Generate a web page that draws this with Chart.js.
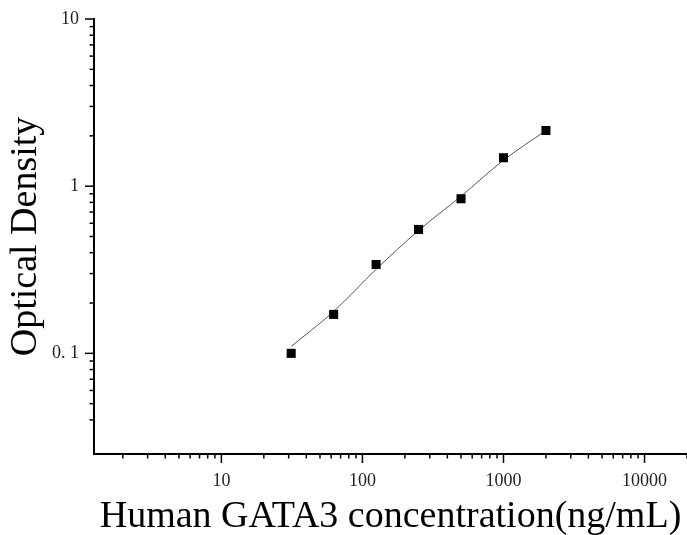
<!DOCTYPE html>
<html>
<head>
<meta charset="utf-8">
<script src="https://cdn.jsdelivr.net/npm/chart.js@4"></script>
<style>
  html, body { margin: 0; padding: 0; background: #fff; overflow: hidden; }
  canvas { display: block; }
</style>
</head>
<body>
<canvas id="stdCurve" width="687" height="535"></canvas>
<script>
// standard points (ng/mL vs OD)
const concentrations = [31.25, 62.5, 125, 250, 500, 1000, 2000];
const odValues = [0.100, 0.171, 0.340, 0.551, 0.841, 1.479, 2.153];

// fitted curve
const curveX = [31.25, 62.5, 125, 250, 500, 1000, 2000];
const curveY = [0.110, 0.178, 0.318, 0.543, 0.870, 1.430, 2.153];

const xTickLabels = [10, 100, 1000, 10000];
const yTickLabels = { 0.1: "0. 1", 1: "1", 10: "10" };

const serif = "'Liberation Serif', 'DejaVu Serif', serif";

function isNice(v) {
  const s = v / Math.pow(10, Math.floor(Math.log10(v) + 1e-9));
  return Math.abs(s - Math.round(s)) < 1e-6;
}
function isDecade(v) {
  const l = Math.log10(v);
  return Math.abs(l - Math.round(l)) < 1e-6;
}

// outward tick marks: long at decades, short in between
const tickMarks = {
  id: "tickMarks",
  afterDraw(chart) {
    const ctx = chart.ctx;
    ctx.save();
    ctx.strokeStyle = "#000";
    ctx.lineWidth = 1.5;
    const xs = chart.scales.x, ys = chart.scales.y;
    xs.ticks.forEach(t => {
      if (!isNice(t.value)) return;
      const px = xs.getPixelForValue(t.value);
      const len = isDecade(t.value) ? 9 : 4.5;
      ctx.beginPath();
      ctx.moveTo(px, xs.top);
      ctx.lineTo(px, xs.top + len);
      ctx.stroke();
    });
    ys.ticks.forEach(t => {
      if (!isNice(t.value)) return;
      const py = ys.getPixelForValue(t.value);
      const len = isDecade(t.value) ? 9 : 4.5;
      ctx.beginPath();
      ctx.moveTo(ys.right, py);
      ctx.lineTo(ys.right - len, py);
      ctx.stroke();
    });
    ctx.restore();
  }
};

new Chart(document.getElementById("stdCurve"), {
  type: "scatter",
  data: {
    datasets: [
      {
        label: "Fit",
        data: curveX.map((x, i) => ({ x: x, y: curveY[i] })),
        showLine: true,
        borderColor: "#555",
        borderWidth: 1,
        pointRadius: 0,
        cubicInterpolationMode: "monotone",
        order: 2
      },
      {
        label: "Standard",
        data: concentrations.map((x, i) => ({ x: x, y: odValues[i] })),
        pointStyle: "rect",
        pointRadius: 6.4,
        backgroundColor: "#000",
        borderColor: "#000",
        borderWidth: 0,
        order: 1
      }
    ]
  },
  options: {
    responsive: false,
    animation: false,
    layout: { autoPadding: false, padding: { top: 19, right: 0, left: 0, bottom: 0 } },
    plugins: {
      legend: { display: false },
      tooltip: { enabled: false }
    },
    scales: {
      x: {
        type: "logarithmic",
        min: 1.25,
        max: 20000,
        afterFit: s => { s.height = 81; },
        border: { color: "#000", width: 2 },
        // tick label gap kept in tickLength so no side padding is added
        grid: { drawOnChartArea: false, tickLength: 16, tickColor: "transparent" },
        ticks: {
          autoSkip: false,
          maxRotation: 0,
          padding: 0,
          color: "#222",
          font: { family: serif, size: 18 },
          callback: v => xTickLabels.includes(v) ? String(v) : ""
        },
        title: {
          display: true,
          text: "Human GATA3 concentration(ng/mL)",
          color: "#000",
          font: { family: serif, size: 38 },
          padding: { top: 0, bottom: -5 }
        }
      },
      y: {
        type: "logarithmic",
        min: 0.025,
        max: 10,
        afterFit: s => { s.width = 94; },
        border: { color: "#000", width: 2 },
        grid: { drawOnChartArea: false, tickLength: 9, tickColor: "transparent" },
        ticks: {
          autoSkip: false,
          padding: 6,
          color: "#222",
          font: { family: serif, size: 18 },
          callback: v => yTickLabels[v] !== undefined ? yTickLabels[v] : ""
        },
        title: {
          display: true,
          text: "Optical Density",
          color: "#000",
          font: { family: serif, size: 38 },
          padding: { top: 3, bottom: 0 }
        }
      }
    }
  },
  plugins: [tickMarks]
});
</script>
</body>
</html>
